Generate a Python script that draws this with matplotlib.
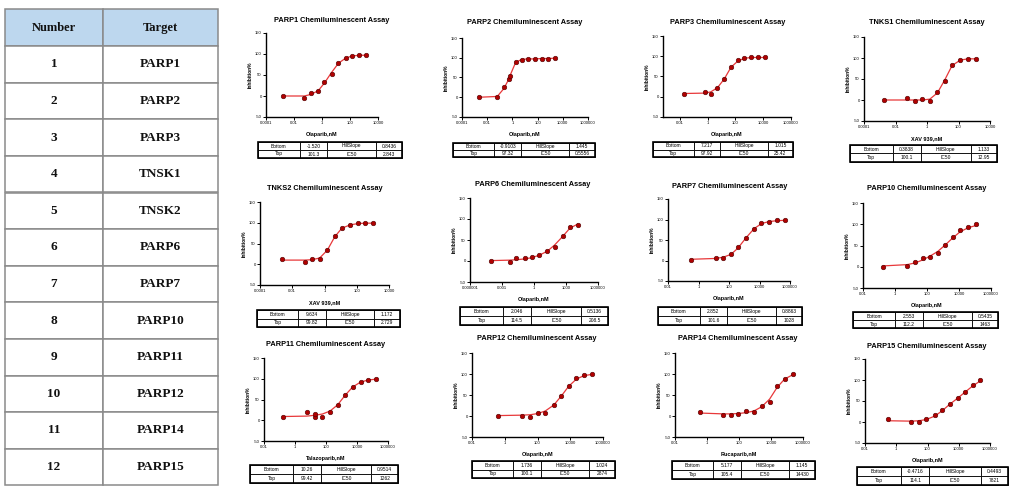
import matplotlib
matplotlib.use("Agg")
import matplotlib.pyplot as plt
from matplotlib.patches import Rectangle

plt.rcParams["font.family"] = ["Liberation Sans", "DejaVu Sans"]

W, H = 1016, 490

# summary table on the left
numbers = [str(i) for i in range(1, 13)]
targets = ["PARP1", "PARP2", "PARP3", "TNSK1", "TNSK2", "PARP6",
           "PARP7", "PARP10", "PARP11", "PARP12", "PARP14", "PARP15"]

plot_titles = ["PARP1", "PARP2", "PARP3", "TNKS1", "TNKS2", "PARP6",
               "PARP7", "PARP10", "PARP11", "PARP12", "PARP14", "PARP15"]
x_labels = ["Olaparib,nM", "Olaparib,nM", "Olaparib,nM", "XAV 939,nM",
            "XAV 939,nM", "Olaparib,nM", "Olaparib,nM", "Olaparib,nM",
            "Talazoparib,nM", "Olaparib,nM", "Rucaparib,nM", "Olaparib,nM"]

ticks_a = [1e-4, 1e-2, 1, 100, 1e4]
labels_a = ["0.0001", "0.01", "1", "100", "10000"]
ticks_b = [1e-4, 1e-2, 1, 100, 1e4, 1e6]
labels_b = ["0.0001", "0.01", "1", "100", "10000", "1000000"]
ticks_c = [1e-2, 1, 100, 1e4, 1e6]
labels_c = ["0.01", "1", "100", "10000", "1000000"]
ticks_d = [1e-6, 1e-3, 1, 1e3, 1e6]
labels_d = ["0.000001", "0.001", "1", "1000", "1000000"]

# concentration (nM), inhibition (%), fitted line read at each concentration
conc_parp1 = [0.0017, 0.054, 0.17, 0.55, 1.5, 4.8, 15, 48, 130, 420, 1300]
inh_parp1 = [0, -5, 7, 11, 34, 52, 79, 91, 95, 97, 97]
fit_parp1 = [0, 0, 4, 13, 31, 56, 78, 90, 95, 97, 97]

conc_parp2 = [0.0023, 0.063, 0.21, 0.54, 0.65, 1.8, 5.5, 18, 62, 210, 710, 2400]
inh_parp2 = [0, 0, 25, 45, 55, 90, 95, 97, 97, 97, 98, 100]
fit_parp2 = [0, 2, 22, 47, 55, 88, 96, 97, 97, 98, 98, 99]

conc_parp3 = [0.019, 0.66, 1.7, 5.1, 16, 49, 150, 450, 1400, 4200, 12600]
inh_parp3 = [7, 12, 7, 22, 43, 73, 90, 95, 97, 97, 97]
fit_parp3 = [8, 9, 12, 22, 44, 73, 88, 95, 97, 97, 97]

conc_tnks1 = [0.0019, 0.055, 0.17, 0.49, 1.5, 4.6, 13.5, 39, 130, 400, 1350]
inh_tnks1 = [0, 4, -2, 2, -3, 18, 46, 84, 95, 98, 98]
fit_tnks1 = [0, 0, 0, 0, 2, 17, 48, 82, 95, 98, 98]

conc_tnks2 = [0.0022, 0.06, 0.17, 0.5, 1.5, 4.3, 12, 40, 118, 330, 950]
inh_tnks2 = [12, 6, 12, 13, 34, 67, 87, 94, 99, 99, 100]
fit_tnks2 = [10, 10, 11, 15, 34, 66, 87, 95, 98, 99, 99]

conc_parp6 = [0.0001, 0.0051, 0.022, 0.14, 0.65, 3.2, 17, 85, 470, 2300, 12600]
inh_parp6 = [0, -2, 6, 6, 10, 14, 24, 34, 60, 80, 86]
fit_parp6 = [1, 2, 3, 5, 8, 14, 23, 38, 58, 78, 88]

conc_parp7 = [0.34, 13.5, 42, 135, 380, 1350, 4500, 13500, 42000, 135000, 450000]
inh_parp7 = [2, 5, 7, 16, 32, 56, 77, 91, 94, 98, 98]
fit_parp7 = [3, 5, 8, 15, 30, 56, 78, 90, 95, 97, 98]

conc_parp10 = [0.19, 5.9, 18, 54, 155, 470, 1350, 4100, 11500, 38000, 115000]
inh_parp10 = [0, 2, 12, 21, 24, 33, 52, 70, 86, 94, 100]
fit_parp10 = [2, 5, 9, 16, 25, 36, 51, 68, 82, 92, 97]

conc_parp11 = [0.18, 5.8, 19.5, 19.5, 58, 180, 560, 1700, 5200, 17000, 54000, 170000]
inh_parp11 = [7, 20, 8, 14, 8, 20, 37, 61, 80, 92, 97, 100]
fit_parp11 = [9, 10, 12, 12, 15, 22, 37, 60, 80, 92, 97, 99]

conc_parp12 = [0.41, 11, 36, 107, 300, 980, 2900, 8100, 24000, 68000, 200000]
inh_parp12 = [0, 0, -2, 8, 8, 27, 47, 71, 91, 98, 100]
fit_parp12 = [1, 2, 3, 6, 12, 26, 48, 71, 88, 96, 99]

conc_parp14 = [0.39, 10.5, 32, 93, 290, 870, 2600, 8100, 24000, 71000, 224000]
inh_parp14 = [10, 2, 2, 4, 12, 10, 24, 34, 71, 87, 100]
fit_parp14 = [7, 5, 5, 6, 8, 12, 22, 40, 68, 88, 98]

conc_parp15 = [0.3, 9.3, 29, 85, 290, 890, 2600, 8700, 27000, 79000, 245000]
inh_parp15 = [6, 0, 0, 6, 17, 28, 42, 56, 71, 87, 100]
fit_parp15 = [3, 2, 3, 6, 14, 27, 42, 57, 72, 86, 98]

# fit parameter tables under each panel
bottoms = ["-1.520", "-0.9103", "7.217", "0.3838", "9.634", "2.046",
           "2.852", "2.553", "10.26", "1.736", "5.177", "-0.4716"]
tops = ["101.3", "97.32", "97.92", "100.1", "99.82", "114.5",
        "101.6", "112.2", "99.42", "100.1", "105.4", "114.1"]
hills = ["0.8436", "1.445", "1.015", "1.133", "1.172", "0.5136",
         "0.8863", "0.5435", "0.9514", "1.024", "1.145", "0.4493"]
ic50s = ["2.843", "0.5556", "25.42", "12.95", "2.729", "208.5",
         "1028", "1463", "1262", "2874", "14430", "7821"]

series = [
    (conc_parp1, inh_parp1, fit_parp1, ticks_a, labels_a),
    (conc_parp2, inh_parp2, fit_parp2, ticks_b, labels_b),
    (conc_parp3, inh_parp3, fit_parp3, ticks_c, labels_c),
    (conc_tnks1, inh_tnks1, fit_tnks1, ticks_a, labels_a),
    (conc_tnks2, inh_tnks2, fit_tnks2, ticks_a, labels_a),
    (conc_parp6, inh_parp6, fit_parp6, ticks_d, labels_d),
    (conc_parp7, inh_parp7, fit_parp7, ticks_c, labels_c),
    (conc_parp10, inh_parp10, fit_parp10, ticks_c, labels_c),
    (conc_parp11, inh_parp11, fit_parp11, ticks_c, labels_c),
    (conc_parp12, inh_parp12, fit_parp12, ticks_c, labels_c),
    (conc_parp14, inh_parp14, fit_parp14, ticks_c, labels_c),
    (conc_parp15, inh_parp15, fit_parp15, ticks_c, labels_c),
]

# layout in pixels: axes box (x0, x1, top, bottom), x-limits, title centre, table box
axes_px = [(266, 378, 33, 117), (462, 588, 38, 117), (663, 791, 36, 117), (864, 990, 37, 121),
           (260, 389, 202, 285), (470, 598, 198, 282), (668, 790, 199, 281), (863, 991, 203, 288),
           (264, 388, 358, 441), (472, 603, 353, 437), (675, 803, 353, 437), (865, 990, 359, 443)]
xlims = [(1e-4, 1e4), (1e-4, 1e6), (10 ** -3.2, 1e6), (1e-4, 1e4),
         (1e-4, 1e4), (1e-6, 1e6), (1e-2, 1e6), (1e-2, 1e6),
         (1e-2, 1e6), (1e-2, 1e6), (1e-2, 1e6), (1e-2, 1e6)]
title_px = [(332, 20), (525, 23), (728, 23), (927, 22),
            (325, 188), (533, 185), (730, 186), (927, 189),
            (326, 345), (537, 338), (738, 338), (927, 346)]
table_px = [(258, 402, 142, 158), (453, 595, 143, 157), (653, 793, 142, 157), (850, 997, 145, 162),
            (257, 400, 310, 327), (460, 608, 307, 325), (658, 802, 307, 325), (853, 998, 312, 328),
            (250, 398, 465, 483), (472, 615, 461, 478), (672, 815, 461, 479), (857, 1008, 467, 485)]


def px_rect(x0, x1, y0, y1):
    return [x0 / W, 1 - y1 / H, (x1 - x0) / W, (y1 - y0) / H]


fig = plt.figure(figsize=(W / 100, H / 100), dpi=100)

page = fig.add_axes([0, 0, 1, 1])
page.set_xlim(0, W)
page.set_ylim(H, 0)
page.axis("off")

# left table
t_left, t_mid, t_right = 5, 103, 218
t_top, row_h = 9.5, 36.6
rows = [("Number", "Target")] + list(zip(numbers, targets))
for i, (num, tgt) in enumerate(rows):
    y0 = t_top + i * row_h
    face = "#bdd7ee" if i == 0 else "white"
    for xa, xb, txt in [(t_left, t_mid, num), (t_mid, t_right, tgt)]:
        page.add_patch(Rectangle((xa, y0), xb - xa, row_h, facecolor=face,
                                 edgecolor="#8a8a8a", linewidth=1.1))
        page.text((xa + xb) / 2, y0 + row_h / 2, txt, ha="center", va="center",
                  family="Liberation Serif", fontweight="bold",
                  fontsize=9 if i == 0 else 9.5, color="#111111")

for k, (conc, inh, fit, ticks, tlabels) in enumerate(series):
    ax = fig.add_axes(px_rect(*axes_px[k]))
    ax.set_xscale("log")
    ax.plot(conc, fit, "-", color="#e8383a", linewidth=0.9, zorder=2)
    ax.plot(conc, inh, "o", markersize=3.3, markerfacecolor="#b00000",
            markeredgecolor="#4a0000", markeredgewidth=0.4, zorder=3)
    ax.set_xlim(*xlims[k])
    ax.set_ylim(-50, 150)
    ax.set_yticks([-50, 0, 50, 100, 150])
    ax.set_yticklabels(["-50", "0", "50", "100", "150"])
    ax.set_xticks(ticks)
    ax.set_xticklabels(tlabels)
    ax.minorticks_off()
    for side in ["top", "right"]:
        ax.spines[side].set_visible(False)
    for side in ["left", "bottom"]:
        ax.spines[side].set_linewidth(1.0)
    ax.tick_params(labelsize=3, length=2, width=0.7, pad=1)
    ax.set_ylabel("Inhibition%", fontsize=3.5, fontweight="bold", labelpad=1.5)
    ax.set_xlabel(x_labels[k], fontsize=4, fontweight="bold", labelpad=5)
    ax.patch.set_alpha(0)

    tx, ty = title_px[k]
    fig.text(tx / W, 1 - ty / H, plot_titles[k] + " Chemiluminescent Assay",
             ha="center", va="center", fontsize=5.3, fontweight="bold")

    tax = fig.add_axes(px_rect(*table_px[k]))
    tax.axis("off")
    tbl = tax.table(cellText=[["Bottom", bottoms[k], "HillSlope", hills[k]],
                              ["Top", tops[k], "IC50", ic50s[k]]],
                    bbox=[0, 0, 1, 1], colWidths=[0.29, 0.19, 0.34, 0.18],
                    cellLoc="center")
    tbl.auto_set_font_size(False)
    tbl.set_fontsize(3.5)
    for cell in tbl.get_celld().values():
        cell.set_linewidth(0.6)
    tax.add_patch(Rectangle((0, 0), 1, 1, transform=tax.transAxes, fill=False,
                            edgecolor="black", linewidth=1.2, clip_on=False))

fig.savefig("out.png", dpi=100)
